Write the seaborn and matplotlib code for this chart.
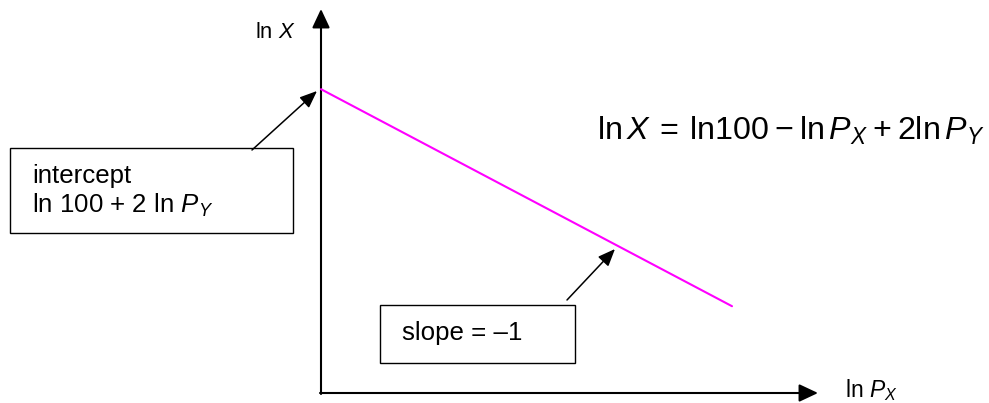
import matplotlib
matplotlib.use("Agg")
import matplotlib.pyplot as plt
from matplotlib.patches import FancyArrowPatch, Rectangle
import seaborn as sns
import pandas as pd

# ---- data ----
ln_px = [0, 5]          # ln P_X
ln_x = [7, 2]           # ln X = intercept - ln P_X
x_label = "ln $P_X$"
y_label = "ln $X$"
equation = r"$\mathrm{ln}\,X\:{=}\:\mathrm{ln}100\:{-}\:\mathrm{ln}\,P_X\:{+}\:2\mathrm{ln}\,P_Y$"
intercept_lines = ["intercept", "ln 100 + 2 ln $P_Y$"]
slope_text = "slope = \u20131"

sns.set_theme(style="white")
plt.rcParams["font.family"] = ["Liberation Sans", "DejaVu Sans"]
plt.rcParams["mathtext.fontset"] = "custom"
plt.rcParams["mathtext.rm"] = "Liberation Sans"
plt.rcParams["mathtext.it"] = "Liberation Sans:italic"
plt.rcParams["mathtext.bf"] = "Liberation Sans:bold"

W, H = 989, 403
fig = plt.figure(figsize=(W / 100, H / 100), dpi=100)
ax = fig.add_axes([0, 0, 1, 1])

# layout: pixel -> data mapping
X0, Y0, SX, SY = 321, 393, 82.2, 43.4
def d(px, py):
    return ((px - X0) / SX, (Y0 - py) / SY)

ax.set_xlim(d(0, 0)[0], d(W, 0)[0])
ax.set_ylim(d(0, H)[1], d(0, 0)[1])
ax.axis("off")

df = pd.DataFrame({"lnPx": ln_px, "lnX": ln_x})
sns.lineplot(data=df, x="lnPx", y="lnX", color="#FF00FF", linewidth=1.5, ax=ax)

def arrow(p0, p1, lw, hl, hw):
    a = FancyArrowPatch(d(*p0), d(*p1),
                        arrowstyle=f"-|>,head_length={hl},head_width={hw}",
                        mutation_scale=1, color="black", linewidth=lw,
                        shrinkA=0, shrinkB=0)
    ax.add_patch(a)

# axes arrows
arrow((321, 394), (321, 9), 1.5, 11.5, 5.4)
arrow((320, 393), (818, 393), 1.5, 11.5, 5.4)

# annotation arrows
arrow((252, 150), (317, 91), 1.1, 10.5, 4.3)
arrow((567, 300), (615, 249), 1.1, 10.5, 4.3)

def box(x0, y0, x1, y1):
    (a, b), (c, e) = d(x0, y1), d(x1, y0)
    ax.add_patch(Rectangle((a, b), c - a, e - b, fill=False,
                           edgecolor="black", linewidth=1.0))

box(10, 148, 293, 233)
box(380, 305, 575, 363)

def txt(px, py, s, size):
    ax.text(*d(px, py), s, fontsize=size, ha="left", va="baseline", color="black")

txt(32, 183, intercept_lines[0], 18.6)
txt(32, 213, intercept_lines[1], 18.6)
txt(402, 340, slope_text, 18.6)
txt(255, 38, y_label, 15.8)
txt(845, 397, x_label, 16.5)
txt(597, 140, equation, 23.2)

fig.savefig("out.png", dpi=100)
